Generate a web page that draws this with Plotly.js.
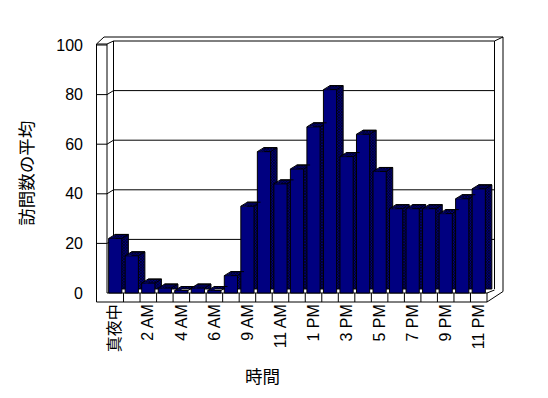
<!DOCTYPE html>
<html><head><meta charset="utf-8">
<script src="https://cdn.plot.ly/plotly-3.0.1.min.js"></script>
<style>html,body{margin:0;padding:0;background:#fff}#chart{width:548px;height:398px}</style>
</head><body><div id="chart"></div>
<script>
// ---- data ----
const hours = ['真夜中','1 AM','2 AM','3 AM','4 AM','5 AM','6 AM','8 AM','9 AM','10 AM','11 AM','正午','1 PM','2 PM','3 PM','4 PM','5 PM','6 PM','7 PM','8 PM','9 PM','10 PM','11 PM'];
const visits = [22,15,4,2,1,2,1,7,35,57,44,50,67,82,55,64,49,34,34,34,32,38,42];
const yTicks = [0,20,40,60,80,100];
const xTitle = '時間';
const yTitle = '訪問数の平均';

// ---- geometry (pixels) ----
const W=548, H=398, L=90, R=510, T=30, B=306;
const FX0=107, FX1=487, n=hours.length, slot=(FX1-FX0)/n;
const Y0=293, K=2.48, DX=6.5, DY=4;
const BW=0.8, h=BW/2, dxu=DX/slot, dyu=DY/K;
const X = p => (p-L)/(R-L);
const Y = p => (B-p)/(B-T);
const fy = v => Y0 - K*v;        // front plane pixel y
const by = v => Y0 - DY - K*v;   // back plane pixel y
const BXL = FX0+DX, BXR = FX1+DX+1;

const shapes = [];
const line = (pts, extra) => {
  let d = 'M ' + pts.map(p => X(p[0]) + ',' + Y(p[1])).join(' L ');
  if (extra && extra.close) d += ' Z';
  shapes.push(Object.assign({type:'path', xref:'paper', yref:'paper', path:d,
    line:{color:'#000', width:1}, layer:'below'}, extra && extra.fill ? {fillcolor:extra.fill} : {}));
};
// outer silhouette
line([[96.5,302],[96.5,44],[104,37],[503,37],[503,291.5],[487,302]], {close:true, fill:'#ffffff'});
// left wall front face
line([[96.5,44],[107,44],[107,293]]);
line([[107,44],[BXL,by(100)]]);
// back wall inner face
line([[BXL,by(0)],[BXL,by(100)],[BXR,by(100)],[BXR,by(0)]]);
line([[BXR,by(100)],[503,37]]);
// floor front face
line([[107,293],[487,293],[487,302]]);
line([[487,293],[BXR,by(0)+1]]);
for (let i=1;i<n;i++) line([[FX0+slot*i,293],[FX0+slot*i,302]]);
// gridlines on back wall + side wall
yTicks.forEach(v => {
  if (v===0 || v===100) return;
  line([[96.5,fy(v)],[107,fy(v)],[BXL,by(v)],[BXR,by(v)]]);
});
line([[96.5,fy(100)],[107,fy(100)]]);

const xIdx = hours.map((_, i) => i);
const tickIdx = xIdx.filter(i => i%2===0);
const tickText = tickIdx.map(i => hours[i]);

const dither = {shape:'x', fgcolor:'#000000', bgcolor:'#000080', size:2, solidity:0.5};
// depth (side + top) of each column, drawn behind the front faces
const backBars = {
  type:'bar', x:xIdx, y:visits, base:dyu, width:BW, offset:-h + dxu,
  marker:{color:'#000040', line:{color:'#000', width:1}, pattern:dither},
  hoverinfo:'skip', showlegend:false
};
const frontBars = {
  type:'bar', x:xIdx, y:visits, width:BW,
  marker:{color:'#000080', line:{color:'#000', width:1}},
  hoverinfo:'skip', showlegend:false
};
// slanted corners of the top faces
const triX = [], triY = [], edgeX = [], edgeY = [];
visits.forEach((v, i) => {
  triX.push(i-h, i-h+dxu, i-h+dxu+0.03, i-h+dxu+0.03, i-h, null);
  triY.push(v, v+dyu, v+dyu, v, v, null);
  edgeX.push(i-h, i-h+dxu, i+h+dxu, null);
  edgeY.push(v, v+dyu, v+dyu, null);
  // right slanted edge, hidden behind the next column where it is taller
  const nextV = i+1 < visits.length ? visits[i+1] : -1;
  const xr = i+h, xNext = i+1-h;
  let tEnd = 1;
  if (xr + dxu > xNext && nextV >= v) tEnd = (xNext - xr)/dxu;
  edgeX.push(xr, xr + dxu*tEnd, null);
  edgeY.push(v, v + dyu*tEnd, null);
});
const topFaces = {
  type:'scatter', mode:'lines', x:triX, y:triY, fill:'toself', fillcolor:'#000040',
  fillpattern:dither, line:{width:0, color:'rgba(0,0,0,0)'}, hoverinfo:'skip', showlegend:false
};
const topEdges = {
  type:'scatter', mode:'lines', x:edgeX, y:edgeY, line:{width:1, color:'#000'},
  hoverinfo:'skip', showlegend:false
};

const tf = {family:'Liberation Sans, Arial, Noto Sans CJK JP, sans-serif', size:16, color:'#000000'};
const layout = {
  width:W, height:H, margin:{l:L, r:W-R, t:T, b:H-B, pad:0},
  paper_bgcolor:'#fff', plot_bgcolor:'rgba(0,0,0,0)',
  barmode:'overlay', showlegend:false, font:tf,
  xaxis:{type:'linear', range:[(L-FX0)/slot-0.5, (R-FX0)/slot-0.5],
    tickmode:'array', tickvals:tickIdx, ticktext:tickText,
    tickangle:-90, ticks:'', showgrid:false, zeroline:false, showline:false, ticklabelstandoff:-6, tickfont:tf},
  yaxis:{range:[(Y0-B)/K, (Y0-T)/K], tickmode:'array', tickvals:yTicks, ticktext:yTicks.map(String),
    ticks:'', showgrid:false, zeroline:false, showline:false, ticklabelstandoff:6, tickfont:tf},
  shapes:shapes,
  annotations:[
    {text:yTitle, xref:'paper', yref:'paper', x:X(26), y:Y(173.7), textangle:-90, showarrow:false,
     xanchor:'center', yanchor:'middle', font:{family:'Noto Sans CJK JP', size:17.5, color:'#000'}},
    {text:xTitle, xref:'paper', yref:'paper', x:X(262), y:Y(375), showarrow:false,
     xanchor:'center', yanchor:'middle', font:{family:'Noto Sans CJK JP', size:17.5, color:'#000'}}
  ]
};
Plotly.newPlot('chart', [backBars, frontBars, topFaces, topEdges], layout, {staticPlot:true, displayModeBar:false});
</script>
</body></html>
